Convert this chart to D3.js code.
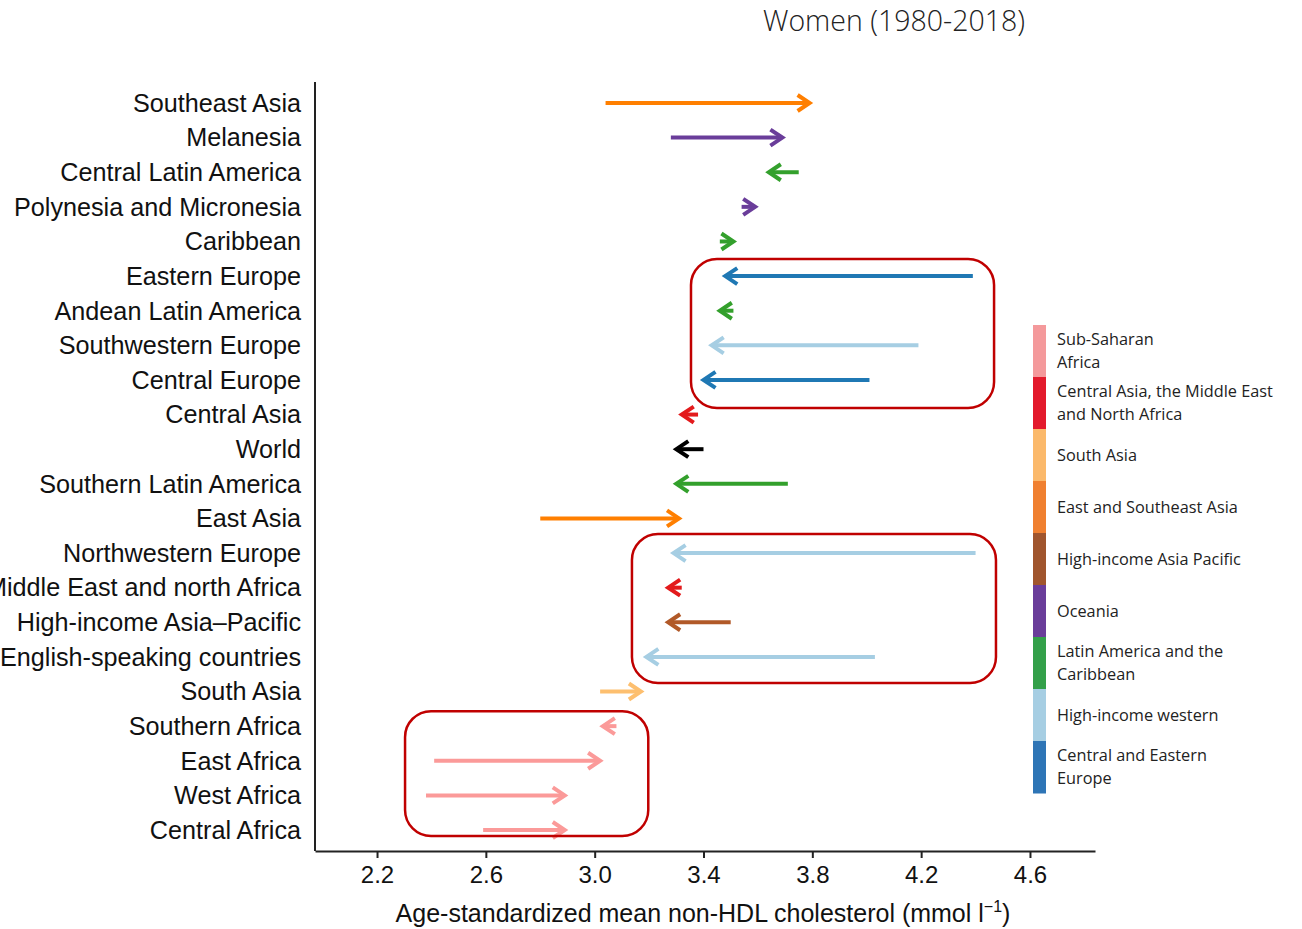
<!DOCTYPE html>
<html><head><meta charset="utf-8">
<script src="https://cdn.jsdelivr.net/npm/d3@7"></script>
<style>body{margin:0;background:#fff;} svg{display:block;}</style>
</head><body><svg id="c" width="1302" height="929"></svg>
<script>
const regions = ["Southeast Asia","Melanesia","Central Latin America","Polynesia and Micronesia","Caribbean","Eastern Europe","Andean Latin America","Southwestern Europe","Central Europe","Central Asia","World","Southern Latin America","East Asia","Northwestern Europe","Middle East and north Africa","High-income Asia\u2013Pacific","English-speaking countries","South Asia","Southern Africa","East Africa","West Africa","Central Africa"];
const value1980 = [3.04,3.28,3.75,3.54,3.46,4.39,3.51,4.19,4.01,3.38,3.40,3.71,2.80,4.40,3.32,3.50,4.03,3.02,3.08,2.41,2.38,2.59];
const value2018 = [3.79,3.69,3.64,3.59,3.51,3.48,3.46,3.43,3.40,3.32,3.30,3.30,3.31,3.29,3.27,3.27,3.19,3.17,3.03,3.02,2.89,2.89];
const superRegion = ["ESA","OC","LAC","OC","LAC","CEE","LAC","HIW","CEE","CAMENA","WORLD","LAC","ESA","HIW","CAMENA","HIAP","HIW","SA","SSA","SSA","SSA","SSA"];
const xTicks = [2.2,2.6,3.0,3.4,3.8,4.2,4.6];
const legendKeys = ["SSA","CAMENA","SA","ESA","HIAP","OC","LAC","HIW","CEE"];
const legendLabels = [["Sub-Saharan","Africa"],["Central Asia, the Middle East","and North Africa"],["South Asia"],["East and Southeast Asia"],["High-income Asia Pacific"],["Oceania"],["Latin America and the","Caribbean"],["High-income western"],["Central and Eastern","Europe"]];
const arrowColors = {SSA:"#fb9a99",CAMENA:"#e31a1c",SA:"#fdbf6f",ESA:"#ff7f00",HIAP:"#b15928",OC:"#6a3d9a",LAC:"#33a02c",HIW:"#a6cee3",CEE:"#1f78b4",WORLD:"#000000"};
const legendColors = {SSA:"#f4999b",CAMENA:"#e31a2c",SA:"#fbb96b",ESA:"#f08030",HIAP:"#a0552d",OC:"#6a3d9a",LAC:"#33a04a",HIW:"#a6cee3",CEE:"#2e75b6"};
// highlighted groups: first row, last row, x range
const boxRows = [[5,8],[13,16],[18,21]];
const boxX = [[3.354,4.468],[3.137,4.475],[2.303,3.197]];

const svg = d3.select("#c");
const x = d3.scaleLinear().domain([1.972,4.839]).range([315,1095]);
const y = d3.scalePoint().domain(d3.range(regions.length)).range([103,830]);

// title
svg.append("text").attr("x",894).attr("y",31).attr("text-anchor","middle")
  .attr("font-family","Open Sans").attr("font-weight",300).attr("font-size",28.5).attr("fill","#222")
  .text("Women (1980-2018)");

// y labels
svg.append("g").selectAll("text").data(regions).join("text")
  .attr("x",301).attr("y",(d,i)=>y(i)).attr("dy","0.35em").attr("text-anchor","end")
  .attr("font-family","Liberation Sans").attr("font-size",25.2).attr("fill","#111").text(d=>d);

// axes
svg.append("line").attr("x1",315).attr("x2",315).attr("y1",82).attr("y2",851).attr("stroke","#222").attr("stroke-width",2);
const xa = svg.append("g").attr("transform","translate(0,851)")
  .call(d3.axisBottom(x).tickValues(xTicks).tickFormat(d3.format(".1f")).tickSize(7).tickSizeOuter(0));
xa.select(".domain").attr("stroke","#222").attr("stroke-width",2);
xa.selectAll(".tick line").attr("stroke","#222").attr("stroke-width",2);
xa.selectAll(".tick text").attr("font-family","Liberation Sans").attr("font-size",24).attr("fill","#111").attr("dy","0.9em");

const title = svg.append("text").attr("x",703).attr("y",922).attr("text-anchor","middle")
  .attr("font-family","Liberation Sans").attr("font-size",25).attr("fill","#111");
title.append("tspan").text("Age-standardized mean non-HDL cholesterol (mmol l");
title.append("tspan").attr("font-size",16).attr("dy",-10).text("\u22121");
title.append("tspan").attr("dy",10).text(")");

// arrows
const g = svg.append("g");
regions.forEach((r,i)=>{
  const x0 = x(value1980[i]), x1 = x(value2018[i]), yy = y(i);
  const col = arrowColors[superRegion[i]];
  const dir = x1 >= x0 ? 1 : -1;
  g.append("line").attr("x1",x0).attr("x2",x1 - dir*2).attr("y1",yy).attr("y2",yy)
    .attr("stroke",col).attr("stroke-width",4);
  g.append("path").attr("d",`M${x1-dir*12},${yy-8}L${x1},${yy}L${x1-dir*12},${yy+8}`)
    .attr("fill","none").attr("stroke",col).attr("stroke-width",4).attr("stroke-linejoin","miter").attr("stroke-linecap","butt");
});

// highlight boxes
const padTop = [17,19,15], padBot = [28,26,6];
boxRows.forEach((rr,k)=>{
  const y0 = y(rr[0]) - padTop[k], y1 = y(rr[1]) + padBot[k];
  svg.append("rect").attr("x",x(boxX[k][0])).attr("y",y0)
    .attr("width",x(boxX[k][1])-x(boxX[k][0])).attr("height",y1-y0)
    .attr("rx",26).attr("fill","none").attr("stroke","#c00000").attr("stroke-width",2.5);
});

// legend
const ly = d3.scaleBand().domain(legendKeys).range([325,793]);
const lg = svg.append("g");
legendKeys.forEach((k,i)=>{
  lg.append("rect").attr("x",1033).attr("y",ly(k)).attr("width",13).attr("height",ly.bandwidth()+0.5).attr("fill",legendColors[k]);
  const lines = legendLabels[i];
  const cy = ly(k)+ly.bandwidth()/2;
  lines.forEach((t,j)=>{
    lg.append("text").attr("x",1057).attr("y",cy + (j-(lines.length-1)/2)*22.5).attr("dy","0.35em")
      .attr("font-family","Open Sans").attr("font-size",16.3).attr("fill","#222").text(t);
  });
});
</script></body></html>
